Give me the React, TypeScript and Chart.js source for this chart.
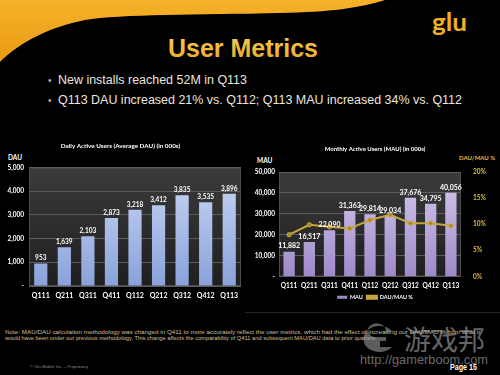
import React, { useEffect, useRef } from "react";
import { Chart, registerables } from "chart.js";
Chart.register(...registerables);

const quarters = ["Q111", "Q211", "Q311", "Q411", "Q112", "Q212", "Q312", "Q412", "Q113"];
const dauValues = [953, 1639, 2103, 2873, 3218, 3412, 3835, 3535, 3896];
const mauValues = [11882, 16517, 22090, 31363, 29814, 29034, 37676, 34795, 40056];
const dauMauPct = [8.0, 9.9, 9.5, 9.2, 10.8, 11.8, 10.2, 10.2, 9.7];

const FONT = 'Lato, "Liberation Sans", Arial, sans-serif';
const SLIDE_FONT = '"Liberation Sans", Arial, sans-serif';

const fmt = (v: number) => (v === 0 ? "-" : v.toLocaleString("en-US"));

const plotBg = {
  id: "plotBg",
  beforeDraw(chart: any) {
    const { ctx, chartArea: a } = chart;
    if (!a) return;
    const g = ctx.createLinearGradient(0, a.top, 0, a.bottom);
    g.addColorStop(0, "#3b3b3b");
    g.addColorStop(1, "#1f1f1f");
    ctx.save();
    ctx.fillStyle = g;
    ctx.fillRect(a.left, a.top, a.right - a.left, a.bottom - a.top);
    ctx.strokeStyle = "#4d4d4d";
    ctx.lineWidth = 1;
    ctx.strokeRect(a.left + 0.5, a.top + 0.5, a.right - a.left - 1, a.bottom - a.top - 1);
    ctx.restore();
  },
};

const barLabels = {
  id: "barLabels",
  afterDatasetsDraw(chart: any, _args: any, opts: any) {
    const { ctx } = chart;
    const idx = opts.index ?? 0;
    const meta = chart.getDatasetMeta(idx);
    const data = chart.data.datasets[idx].data as number[];
    ctx.save();
    ctx.fillStyle = "#ffffff";
    ctx.font = opts.font;
    ctx.textAlign = "center";
    ctx.textBaseline = "bottom";
    meta.data.forEach((el: any, i: number) => {
      ctx.fillText(fmt(data[i]), el.x, el.y - 2);
    });
    ctx.restore();
  },
};

function vGrad(top: string, bottom: string, fallback: string) {
  return (c: any) => {
    const chart = c.chart;
    const a = chart.chartArea;
    if (!a) return fallback;
    const g = chart.ctx.createLinearGradient(0, a.top, 0, a.bottom);
    g.addColorStop(0, top);
    g.addColorStop(1, bottom);
    return g;
  };
}

function DauChart() {
  const ref = useRef<HTMLCanvasElement>(null);
  useEffect(() => {
    const chart = new Chart(ref.current!, {
      type: "bar",
      data: {
        labels: quarters,
        datasets: [
          {
            label: "DAU",
            data: dauValues,
            backgroundColor: vGrad("#cbd8f6", "#8aa2da", "#a9bde9"),
            categoryPercentage: 1,
            barPercentage: 0.56,
          },
        ],
      },
      options: {
        responsive: false,
        animation: false,
        layout: { padding: { top: 0, right: 9, left: 0, bottom: 0 } },
        plugins: {
          legend: { display: false },
          tooltip: { enabled: false },
          title: {
            display: true,
            text: "Daily Active Users (Average DAU) (in 000s)",
            color: "#ffffff",
            font: { family: FONT, size: 6.3, weight: "bold" },
            padding: { top: 7, bottom: 18 },
          },
          barLabels: { index: 0, font: `bold 6.5px ${FONT}` },
        } as any,
        scales: {
          x: {
            grid: { display: false, drawTicks: false },
            border: { display: false },
            ticks: {
              color: "#ffffff",
              font: { family: FONT, size: 7, weight: "bold" },
              padding: 6,
              maxRotation: 0,
              minRotation: 0,
              autoSkip: false,
            },
            afterFit: (s: any) => {
              s.height = 19;
            },
          },
          y: {
            min: 0,
            max: 5000,
            grid: { color: "#5c5c5c", drawTicks: false },
            border: { display: false },
            ticks: {
              stepSize: 1000,
              color: "#ffffff",
              font: { family: FONT, size: 6.5, weight: "bold" },
              padding: 5,
              callback: (v: any) => fmt(Number(v)),
            },
            afterFit: (s: any) => {
              s.width = 29;
            },
          },
        },
      },
      plugins: [plotBg, barLabels],
    });
    return () => chart.destroy();
  }, []);
  return (
    <canvas
      ref={ref}
      width={250}
      height={170}
      style={{ position: "absolute", left: 0, top: 135, width: 250, height: 170 }}
    />
  );
}

function MauChart() {
  const ref = useRef<HTMLCanvasElement>(null);
  useEffect(() => {
    const chart = new Chart(ref.current!, {
      type: "bar",
      data: {
        labels: quarters,
        datasets: [
          {
            type: "line",
            label: "DAU/MAU %",
            data: dauMauPct,
            yAxisID: "y1",
            borderColor: "#c6a63c",
            backgroundColor: "#c6a63c",
            borderWidth: 2,
            pointRadius: 2.2,
            pointBackgroundColor: "#b08420",
            pointBorderColor: "#d2b046",
            pointBorderWidth: 0.8,
            tension: 0,
          } as any,
          {
            type: "bar",
            label: "MAU",
            data: mauValues,
            yAxisID: "y",
            backgroundColor: vGrad("#d6caee", "#9e8ac8", "#c2b2de"),
            categoryPercentage: 1,
            barPercentage: 0.56,
          },
        ],
      },
      options: {
        responsive: false,
        animation: false,
        layout: { padding: { top: 0, right: 0, left: 0, bottom: 5 } },
        plugins: {
          legend: {
            display: true,
            position: "bottom",
            labels: {
              color: "#ffffff",
              font: { family: FONT, size: 5.5, weight: "bold" },
              boxWidth: 10,
              boxHeight: 3,
              padding: 4,
              sort: (a: any, b: any) => b.datasetIndex - a.datasetIndex,
            },
          },
          tooltip: { enabled: false },
          title: {
            display: true,
            text: "Monthly Active Users (MAU) (in 000s)",
            color: "#ffffff",
            font: { family: FONT, size: 6, weight: "bold" },
            padding: { top: 10, bottom: 19.8 },
          },
          barLabels: { index: 1, font: `bold 7px ${FONT}` },
        } as any,
        scales: {
          x: {
            grid: { display: false, drawTicks: false },
            border: { display: false },
            ticks: {
              color: "#ffffff",
              font: { family: FONT, size: 6.5, weight: "bold" },
              padding: 6,
              maxRotation: 0,
              minRotation: 0,
              autoSkip: false,
            },
            afterFit: (s: any) => {
              s.height = 14;
            },
          },
          y: {
            position: "left",
            min: 0,
            max: 50000,
            grid: { color: "#5c5c5c", drawTicks: false },
            border: { display: false },
            ticks: {
              stepSize: 10000,
              color: "#ffffff",
              font: { family: FONT, size: 6.5, weight: "bold" },
              padding: 4,
              callback: (v: any) => fmt(Number(v)),
            },
            afterFit: (s: any) => {
              s.width = 29;
            },
          },
          y1: {
            position: "right",
            min: 0,
            max: 20,
            grid: { display: false, drawTicks: false },
            border: { display: false },
            ticks: {
              stepSize: 5,
              color: "#e0bc4a",
              font: { family: FONT, size: 6.5, weight: "bold" },
              padding: 12,
              callback: (v: any) => `${v}%`,
            },
            afterFit: (s: any) => {
              s.width = 39;
            },
          },
        },
      },
      plugins: [plotBg, barLabels],
    });
    return () => chart.destroy();
  }, []);
  return (
    <canvas
      ref={ref}
      width={250}
      height={180}
      style={{ position: "absolute", left: 250, top: 135, width: 250, height: 180 }}
    />
  );
}

export default function App() {
  return (
    <div
      style={{
        position: "fixed",
        left: 0,
        top: 0,
        width: 500,
        height: 375,
        background: "#000",
        overflow: "hidden",
      }}
    >
      <svg width={500} height={375} style={{ position: "absolute", left: 0, top: 0 }}>
        <defs>
          <linearGradient id="wave" x1="0" y1="0" x2="0" y2="1">
            <stop offset="0" stopColor="#f6b22a" />
            <stop offset="1" stopColor="#e99a12" />
          </linearGradient>
          <linearGradient id="title" x1="0" y1="0" x2="0" y2="1">
            <stop offset="0" stopColor="#f8cf55" />
            <stop offset="1" stopColor="#e9a723" />
          </linearGradient>
        </defs>
        <path
          d="M0,0 H385 C360,8 330,12 280,13 C200,15 120,14 85,20 C50,27 20,42 0,62 Z"
          fill="url(#wave)"
        />
        <text
          x={432}
          y={31}
          fill="#f2b01e"
          fontFamily={FONT}
          fontWeight="bold"
          fontSize={24}
          textLength={35}
          lengthAdjust="spacingAndGlyphs"
        >
          glu
        </text>
        <text
          x={168}
          y={57}
          fill="url(#title)"
          fontFamily={SLIDE_FONT}
          fontWeight="bold"
          fontSize={26}
          textLength={150}
          lengthAdjust="spacingAndGlyphs"
        >
          User Metrics
        </text>
        <text x={48} y={84} fill="#bdb6a8" fontFamily={SLIDE_FONT} fontSize={10}>•</text>
        <text
          x={58}
          y={84}
          fill="#ebe6dc"
          fontFamily={SLIDE_FONT}
          fontSize={12.5}
          textLength={189}
          lengthAdjust="spacingAndGlyphs"
        >
          New installs reached 52M in Q113
        </text>
        <text x={48} y={104} fill="#bdb6a8" fontFamily={SLIDE_FONT} fontSize={10}>•</text>
        <text
          x={58}
          y={104}
          fill="#ebe6dc"
          fontFamily={SLIDE_FONT}
          fontSize={12.5}
          textLength={404}
          lengthAdjust="spacingAndGlyphs"
        >
          Q113 DAU increased 21% vs. Q112; Q113 MAU increased 34% vs. Q112
        </text>
        <text x={8} y={160} fill="#ffffff" fontFamily={FONT} fontWeight="bold" fontSize={6.5}>
          DAU
        </text>
        <text x={257} y={163} fill="#ffffff" fontFamily={FONT} fontWeight="bold" fontSize={6.5}>
          MAU
        </text>
        <text x={459} y={160} fill="#e0bc4a" fontFamily={FONT} fontWeight="bold" fontSize={6}>
          DAU/MAU %
        </text>
        <line x1={245} y1={312.5} x2={500} y2={312.5} stroke="#262626" strokeWidth={1} />
        <text
          x={5}
          y={334}
          fill="#cdbf94"
          fontFamily={SLIDE_FONT}
          fontSize={4.6}
          textLength={475}
          lengthAdjust="spacingAndGlyphs"
        >
          Note: MAU/DAU calculation methodology was changed in Q411 to more accurately reflect the user metrics, which had the effect of increasing our DAU/MAU % from what it
        </text>
        <text
          x={5}
          y={340}
          fill="#cdbf94"
          fontFamily={SLIDE_FONT}
          fontSize={4.6}
          textLength={372}
          lengthAdjust="spacingAndGlyphs"
        >
          would have been under our previous methodology. This change affects the comparability of Q411 and subsequent MAU/DAU data to prior quarters.
        </text>
        <g opacity={0.6}>
          <path
            d="M392,331 A16,13 0 1,0 392,347 L380,347 L380,341 L386,341 L386,337 L374,337 A9,7 0 1,1 385,333 Z"
            fill="#9a9a9a"
          />
          <text x={404} y={350} fill="#a8a8a8" fontFamily='"Noto Sans CJK SC", sans-serif' fontSize={27}>
            游戏邦
          </text>
          <text
            x={360}
            y={364}
            fill="#b0b0b0"
            fontFamily={SLIDE_FONT}
            fontSize={13}
            textLength={128}
            lengthAdjust="spacingAndGlyphs"
          >
            http://gamerboom.com
          </text>
        </g>
        <text
          x={30}
          y={368}
          fill="#8a8a8a"
          fontFamily={SLIDE_FONT}
          fontSize={4}
          textLength={58}
          lengthAdjust="spacingAndGlyphs"
        >
          © Glu Mobile Inc. – Proprietary
        </text>
        <text
          x={450}
          y={370}
          fill="#ffffff"
          fontFamily={SLIDE_FONT}
          fontWeight="bold"
          fontSize={8.5}
          textLength={27}
          lengthAdjust="spacingAndGlyphs"
        >
          Page 15
        </text>
      </svg>
      <DauChart />
      <MauChart />
    </div>
  );
}
